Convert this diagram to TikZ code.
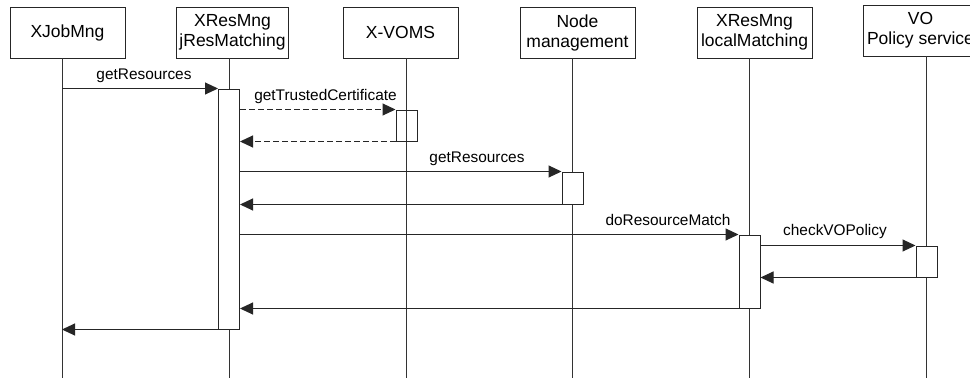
\documentclass[tikz,border=0pt]{standalone}
\usepackage{fontspec}
\setmainfont{Liberation Sans}
\usetikzlibrary{arrows.meta}
\begin{document}
\begin{tikzpicture}[x=1pt,y=-1pt,
  line width=1pt,
  actor/.style={draw=black!85,fill=white,minimum width=115pt,minimum height=51pt,
    inner sep=0pt,align=center,font=\fontsize{17.5}{20}\selectfont},
  life/.style={draw=black!80},
  actbar/.style={draw=black!85,fill=white,minimum width=21pt,inner sep=0pt},
  msg/.style={draw=black!85,-{Triangle[length=13pt,width=12pt]}},
  retmsg/.style={msg},
  asyncmsg/.style={msg,dash pattern=on 6pt off 3pt},
  lbl/.style={anchor=base,inner sep=0pt,font=\fontsize{15.4}{18}\selectfont}]
\useasboundingbox (0,0) rectangle (970,378);
\fill[white] (0,0) rectangle (970,378);

% participants
\node[actor] (b1) at (67.5,32.5) {XJobMng};
\node[actor,minimum width=112pt] (b2) at (232.5,32.5) {XResMng\\jResMatching};
\node[actor] (b3) at (400.5,32.5) {X-VOMS};
\node[actor] (b4) at (577.5,32.5) {Node\\management};
\node[actor] (b5) at (754.5,32.5) {XResMng\\localMatching};
\node[actor] (b6) at (920.5,30.5) {VO\\Policy service};

% lifelines
\foreach \i/\x in {1/62,2/229,3/406,4/572,5/749,6/926} {
  \coordinate (t\i) at (\x,{\i==6 ? 56 : 58});
  \coordinate (e\i) at (\x,378);
  \draw[life] (t\i) -- (e\i);
}

% activation bars
\node[actbar,minimum height=240pt] (a2) at (229,209) {};
\node[actbar,minimum height=31pt,fill=none] (a3) at (406.5,125.5) {};
\node[actbar,minimum height=32pt] (a4) at (572.5,188) {};
\node[actbar,minimum height=73pt] (a5) at (749.5,271.5) {};
\node[actbar,minimum height=31pt] (a6) at (926.5,261.5) {};

% messages
\draw[msg] (t1 |- a2.north) -- (a2.north west);
\draw[asyncmsg] (a2.east |- a3.north) -- (a3.north west);
\draw[asyncmsg] (a3.south west) -- (a2.east |- a3.south);
\draw[msg] (a2.east |- a4.north) -- (a4.north west);
\draw[retmsg] (a4.south west) -- (a2.east |- a4.south);
\draw[msg] (a2.east |- a5.north) -- (a5.north west);
\draw[msg] (a5.east |- a6.north) -- (a6.north west);
\draw[retmsg] (a6.south west) -- (a5.east |- a6.south);
\draw[retmsg] (a5.south west) -- (a2.east |- a5.south);
\draw[retmsg] (a2.south west) -- (t1 |- a2.south);

% message labels
\node[lbl] (m1) at (144,79.5) {getResources};
\node[lbl] (m2) at (325.5,100) {getTrustedCertificate};
\node[lbl] (m4) at (477,162) {getResources};
\node[lbl] (m6) at (668,225) {doResourceMatch};
\node[lbl] (m7) at (835,235.5) {checkVOPolicy};
\end{tikzpicture}
\end{document}
